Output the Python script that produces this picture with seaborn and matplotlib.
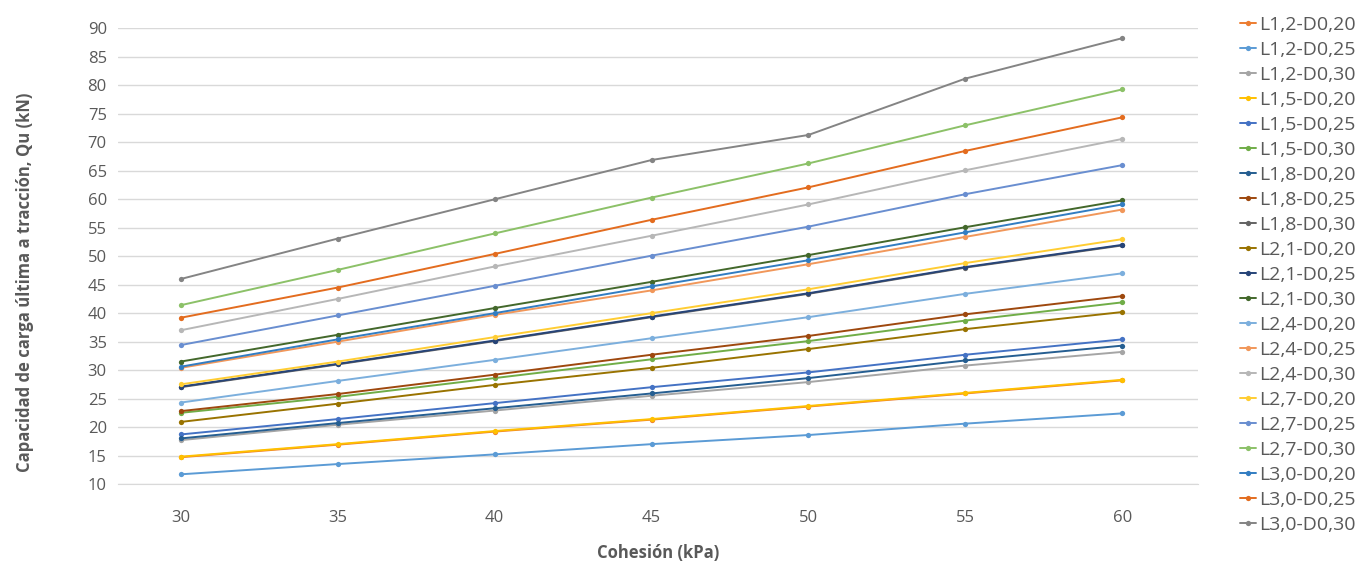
import matplotlib
matplotlib.use("Agg")
import matplotlib.pyplot as plt
import seaborn as sns
import pandas as pd

# cohesion (kPa) on the x axis
cohesion = [30, 35, 40, 45, 50, 55, 60]

# Qu (kN) per pile
q_L12_D020 = [14.7, 16.9, 19.2, 21.3, 23.6, 25.9, 28.2]
q_L12_D025 = [11.7, 13.5, 15.2, 17.0, 18.6, 20.6, 22.4]
q_L12_D030 = [17.7, 20.4, 22.9, 25.5, 27.9, 30.8, 33.2]
q_L15_D020 = [14.8, 17.0, 19.3, 21.4, 23.7, 26.0, 28.3]
q_L15_D025 = [18.7, 21.4, 24.2, 27.0, 29.6, 32.7, 35.4]
q_L15_D030 = [22.5, 25.3, 28.6, 31.9, 35.1, 38.7, 41.9]
q_L18_D020 = [18.0, 20.7, 23.3, 25.9, 28.6, 31.7, 34.3]
q_L18_D025 = [22.8, 25.8, 29.2, 32.7, 36.0, 39.8, 43.0]
q_L18_D030 = [27.0, 31.0, 35.1, 39.3, 43.4, 48.0, 51.9]
q_L21_D020 = [20.9, 24.1, 27.4, 30.4, 33.7, 37.2, 40.2]
q_L21_D025 = [27.1, 31.1, 35.2, 39.4, 43.5, 48.1, 52.0]
q_L21_D030 = [31.5, 36.2, 40.9, 45.5, 50.2, 55.1, 59.8]
q_L24_D020 = [24.3, 28.1, 31.8, 35.6, 39.3, 43.4, 47.0]
q_L24_D025 = [30.4, 35.0, 39.7, 44.0, 48.6, 53.4, 58.2]
q_L24_D030 = [37.0, 42.5, 48.2, 53.6, 59.1, 65.1, 70.6]
q_L27_D020 = [27.5, 31.5, 35.8, 40.0, 44.2, 48.8, 53.0]
q_L27_D025 = [34.4, 39.6, 44.8, 50.1, 55.2, 60.9, 66.0]
q_L27_D030 = [41.4, 47.6, 54.0, 60.3, 66.3, 73.0, 79.3]
q_L30_D020 = [30.6, 35.4, 40.0, 44.7, 49.3, 54.2, 59.1]
q_L30_D025 = [39.2, 44.5, 50.4, 56.4, 62.1, 68.5, 74.4]
q_L30_D030 = [46.0, 53.1, 60.0, 66.9, 71.3, 81.2, 88.3]

labels = ["L1,2-D0,20", "L1,2-D0,25", "L1,2-D0,30",
          "L1,5-D0,20", "L1,5-D0,25", "L1,5-D0,30",
          "L1,8-D0,20", "L1,8-D0,25", "L1,8-D0,30",
          "L2,1-D0,20", "L2,1-D0,25", "L2,1-D0,30",
          "L2,4-D0,20", "L2,4-D0,25", "L2,4-D0,30",
          "L2,7-D0,20", "L2,7-D0,25", "L2,7-D0,30",
          "L3,0-D0,20", "L3,0-D0,25", "L3,0-D0,30"]

colors = ["#ED7D31", "#5B9BD5", "#A5A5A5",
          "#FFC000", "#4472C4", "#70AD47",
          "#255E91", "#9E480E", "#636363",
          "#997300", "#264478", "#43682B",
          "#7CAFDD", "#F1975A", "#B7B7B7",
          "#FFCD33", "#698ED0", "#8CC168",
          "#327DC2", "#E36C1F", "#848484"]

series = [q_L12_D020, q_L12_D025, q_L12_D030,
          q_L15_D020, q_L15_D025, q_L15_D030,
          q_L18_D020, q_L18_D025, q_L18_D030,
          q_L21_D020, q_L21_D025, q_L21_D030,
          q_L24_D020, q_L24_D025, q_L24_D030,
          q_L27_D020, q_L27_D025, q_L27_D030,
          q_L30_D020, q_L30_D025, q_L30_D030]

rows = []
for name, vals in zip(labels, series):
    for c, q in zip(cohesion, vals):
        rows.append({"cohesion": c, "Qu": q, "serie": name})
df = pd.DataFrame(rows)

sns.set_style("white")
plt.rcParams["font.family"] = ["Open Sans", "DejaVu Sans"]
text_color = "#595959"

fig = plt.figure(figsize=(13.64, 5.62), dpi=100)
ax = fig.add_axes([0.0865, 0.1388, 0.7915, 0.8105])

sns.lineplot(data=df, x="cohesion", y="Qu", hue="serie", hue_order=labels,
             palette=dict(zip(labels, colors)), marker="o", markersize=3.8,
             markeredgewidth=0, linewidth=1.4, ax=ax)

ax.set_xlim(28.0, 62.4)
ax.set_ylim(10, 90)
ax.set_xticks(cohesion)
ax.set_yticks(range(10, 91, 5))
ax.yaxis.grid(True, color="#D9D9D9", linewidth=1.0)
ax.set_axisbelow(True)
for side in ["top", "right", "left"]:
    ax.spines[side].set_visible(False)
ax.spines["bottom"].set_color("#D9D9D9")
ax.tick_params(axis="y", length=0, labelsize=12, colors=text_color, pad=8)
ax.tick_params(axis="x", length=0, labelsize=12, colors=text_color, pad=19)

ax.set_xlabel("Cohesión (kPa)", fontsize=12, fontweight="bold", color=text_color)
ax.set_ylabel("Capacidad de carga última a tracción, Qu (kN)", fontsize=12,
              fontweight="bold", color=text_color)
ax.xaxis.set_label_coords(0.5, -0.132)
ax.yaxis.set_label_coords(-0.078, 0.443)

ax.legend(loc="upper left", bbox_to_anchor=(1.032, 1.044), frameon=False,
          fontsize=14, labelcolor=text_color, handlelength=0.85,
          handletextpad=0.15, labelspacing=0.36, borderaxespad=0)

fig.savefig("out.png", dpi=100)
